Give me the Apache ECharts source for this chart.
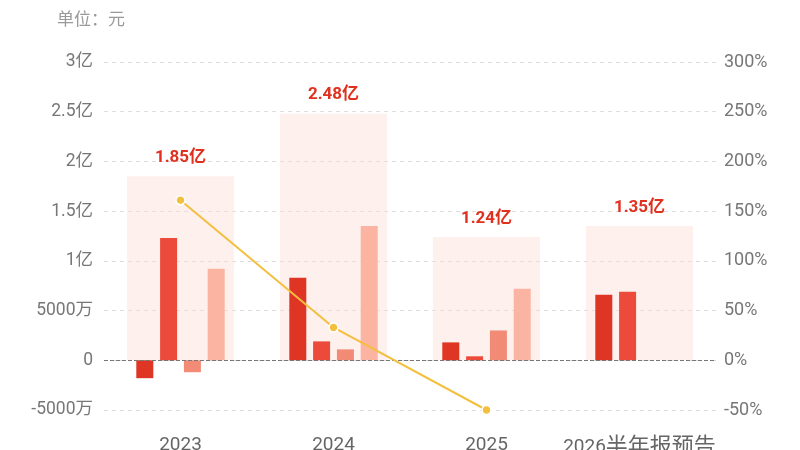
<!DOCTYPE html>
<html lang="zh">

<head>
  <meta charset="UTF-8">
  <title>净利润构成</title>
  <script src="https://cdn.jsdelivr.net/npm/echarts@6/dist/echarts.min.js"></script>
  <style>
    body {
      margin: 0;
      padding: 0;
      background-color: #ffffff;
    }
  </style>
</head>

<body>
  <div id="chart" style="width: 800px; height: 450px;"></div>
  <script>
    // 数据 (单位: 亿元 / %)
    var categories = ['2023', '2024', '2025', '2026半年报预告'];
    var totals = [1.85, 2.48, 1.24, 1.35];
    var part1 = [-0.18, 0.83, 0.18, 0.66];
    var part2 = [1.23, 0.19, 0.04, 0.69];
    var part3 = [-0.12, 0.11, 0.30, null];
    var part4 = [0.92, 1.35, 0.72, null];
    var growth = [161, 33, -50, null];

    var font = 'Roboto, "Noto Sans CJK SC", sans-serif';
    var barColors = ['#df3524', '#ec4a3b', '#f28b76', '#fbb3a2'];

    function leftLabel (v) {
      if (v === 0) return '0';
      if (Math.abs(v) < 1) return Math.round(v * 10000) + '万';
      return v + '亿';
    }

    function smallBar (data, i) {
      var s = {
        type: 'bar',
        xAxisIndex: 0,
        yAxisIndex: 0,
        barWidth: 17,
        barGap: '40%',
        z: 3,
        itemStyle: { color: barColors[i] },
        data: data
      };
      if (i === 0) {
        // 0 轴虚线
        s.markLine = {
          silent: true,
          symbol: 'none',
          label: { show: false },
          lineStyle: { color: '#777', type: 'dashed', width: 1 },
          data: [{ yAxis: 0 }]
        };
      }
      return s;
    }

    var myChart = echarts.init(document.getElementById('chart'));
    var option = {
      textStyle: { fontFamily: font },
      grid: { left: 104, right: 84, top: 62, bottom: 40, outerBoundsMode: 'none' },
      graphic: [{
        type: 'text',
        left: 57,
        top: 12,
        style: { text: '单位：元', fill: '#999', fontSize: 17, fontFamily: font }
      }],
      xAxis: [
        {
          type: 'category',
          data: categories,
          axisLine: { show: false, onZero: false },
          axisTick: { show: false },
          axisLabel: {
            color: '#666',
            margin: 26,
            interval: 0,
            fontFamily: font,
            formatter: function (v) {
              return v.replace(/^(\d+)(.*)$/, function (m, d, c) {
                return '{d|' + d + '}' + (c ? '{c|' + c + '}' : '');
              });
            },
            rich: {
              d: { fontSize: 19, color: '#666', fontFamily: font },
              c: { fontSize: 22, color: '#666', fontFamily: font }
            }
          }
        },
        {
          type: 'category',
          data: categories,
          show: false
        }
      ],
      yAxis: [
        {
          type: 'value',
          min: -0.5,
          max: 3,
          interval: 0.5,
          axisLine: { show: false },
          axisTick: { show: false },
          axisLabel: { color: '#777', fontSize: 17.5, margin: 11, formatter: leftLabel },
          splitLine: { lineStyle: { color: '#ddd', type: [4, 4] } }
        },
        {
          type: 'value',
          min: -50,
          max: 300,
          interval: 50,
          axisLine: { show: false },
          axisTick: { show: false },
          axisLabel: { color: '#777', fontSize: 18, margin: 8, formatter: '{value}%' },
          splitLine: { show: false }
        }
      ],
      series: [
        {
          type: 'bar',
          xAxisIndex: 1,
          yAxisIndex: 0,
          barWidth: '70%',
          z: 1,
          itemStyle: { color: 'rgba(253, 222, 212, 0.45)' },
          label: {
            show: true,
            position: 'top',
            distance: 10,
            color: '#e0301e',
            fontSize: 17,
            fontWeight: 'bold',
            formatter: function (p) { return p.value + '亿'; }
          },
          data: totals
        },
        smallBar(part1, 0),
        smallBar(part2, 1),
        smallBar(part3, 2),
        smallBar(part4, 3),
        {
          type: 'line',
          xAxisIndex: 0,
          yAxisIndex: 1,
          z: 5,
          symbol: 'circle',
          symbolSize: 9,
          lineStyle: { color: '#f3bf3f', width: 2 },
          itemStyle: { color: '#f3bf3f', borderColor: '#fff', borderWidth: 1.5 },
          data: growth
        }
      ]
    };
    myChart.setOption(option);
  </script>
</body>

</html>
